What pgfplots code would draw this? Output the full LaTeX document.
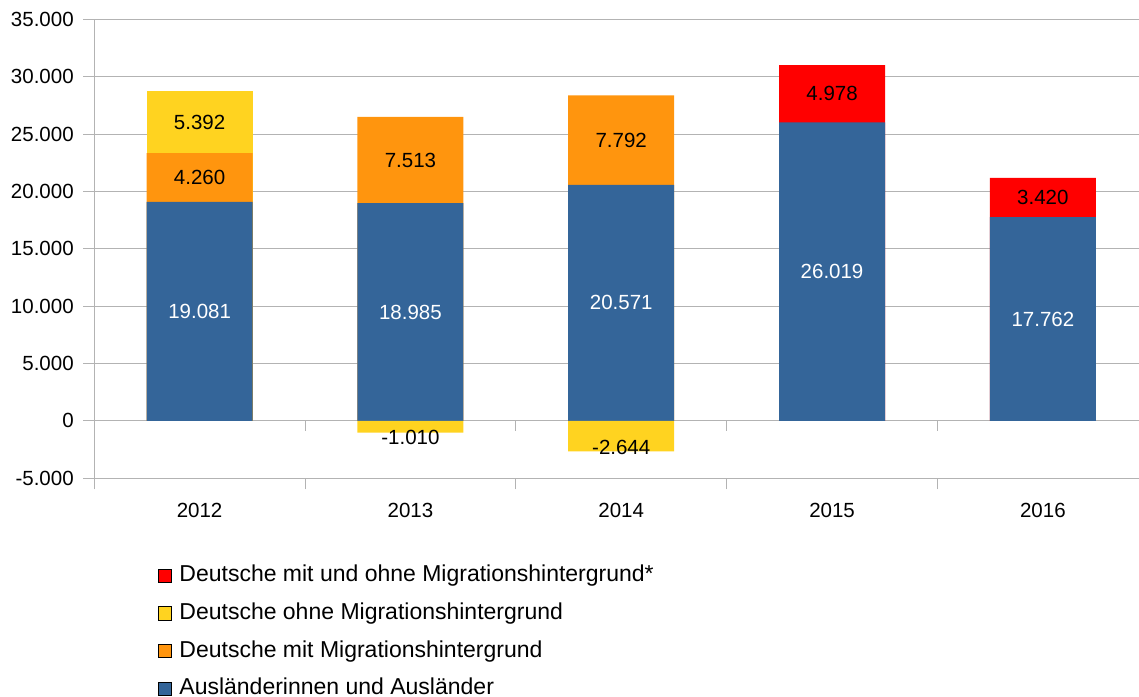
\documentclass[border=0pt]{standalone}
\usepackage{pgfplots}
\pgfplotsset{compat=1.18}
\usepackage{pgfplotstable}
\usepackage{fontspec}
\setmainfont{Liberation Sans}
\definecolor{cblue}{RGB}{52,101,153}
\definecolor{corange}{RGB}{255,149,14}
\definecolor{cyellow}{RGB}{255,211,32}
\definecolor{cred}{RGB}{255,0,0}
\definecolor{cgrid}{RGB}{179,179,179}

\pgfplotstableread{
x blue
0 19081
1 18985
2 20571
3 26019
4 17762
}\bluet
\pgfplotstableread{
x blue orange
0 19081 4260
1 18985 7513
2 20571 7792
}\oranget
\pgfplotstableread{
x blue orange yellow
0 19081 4260 5392
}\yellowpost
\pgfplotstableread{
x yellow
1 -1010
2 -2644
}\yellownegt
\pgfplotstableread{
x blue red
3 26019 4978
4 17762 3420
}\redt

\newcommand{\chartfont}{\fontsize{20.5bp}{24bp}\selectfont}
\newcommand{\legfont}{\fontsize{23bp}{26bp}\selectfont}
\newcommand{\legtxt}[1]{\raisebox{3.5bp}{#1}}

\begin{document}
\begin{tikzpicture}
\begin{axis}[
  scale only axis, width=1044.8bp, height=459bp,
  xmin=-0.5, xmax=4.456, ymin=-5000, ymax=35000,
  axis x line*=bottom, axis y line*=left,
  axis line style={cgrid, line width=1bp},
  ytick distance=5000,
  ymajorgrids, grid style={cgrid, line width=1bp},
  xtick={0,1,2,3,4}, xticklabels={2012,2013,2014,2015,2016},
  minor xtick={-0.5,0.5,1.5,2.5,3.5},
  major x tick style={draw=none},
  tick align=outside,
  major tick length=11bp, minor tick length=11bp,
  tick style={cgrid, line width=1bp},
  tick label style={font=\chartfont, black},
  yticklabel style={xshift=-6bp},
  xticklabel style={yshift=-10bp},
  /pgf/number format/.cd, 1000 sep={.}, assume math mode=true, /pgfplots/.cd,
  scaled y ticks=false,
  mybar/.style={ybar, bar width=106bp, bar shift=0pt, draw=none},
  lbl/.style={draw=none, mark=none, point meta=explicit, nodes near coords={\pgfmathprintnumber[fixed,precision=0,1000 sep={.}]{\pgfplotspointmeta}}, every node near coord/.append style={anchor=center, font=\chartfont, inner sep=0pt}},
  legend image code/.code={\fill[#1] (0bp,-2.5bp) rectangle (12.5bp,10.8bp);},
  legend style={at={(0.0613,-0.1972)}, anchor=north west, draw=none, fill=none,
    inner sep=0pt, outer sep=0pt, row sep=17.1bp, column sep=8.3bp,
    font=\legfont, cells={anchor=base west},
    nodes={inner sep=0pt, text height=15bp, text depth=4bp}},
  legend cell align=left,
]
\addplot[mybar, fill=cyellow, forget plot] table[x=x, y expr=\thisrow{blue}+\thisrow{orange}+\thisrow{yellow}] {\yellowpost};
\addplot[mybar, fill=cred, forget plot] table[x=x, y expr=\thisrow{blue}+\thisrow{red}] {\redt};
\addplot[mybar, fill=corange, forget plot] table[x=x, y expr=\thisrow{blue}+\thisrow{orange}] {\oranget};
\addplot[mybar, fill=cblue, forget plot] table[x=x, y=blue] {\bluet};
\addplot[mybar, fill=cyellow, forget plot] table[x=x, y=yellow] {\yellownegt};

\addplot[lbl, forget plot, every node near coord/.append style={white}] table[x=x, y expr=\thisrow{blue}/2, meta=blue] {\bluet};
\addplot[lbl, forget plot, every node near coord/.append style={black}] table[x=x, y expr=\thisrow{blue}+\thisrow{orange}/2, meta=orange] {\oranget};
\addplot[lbl, forget plot, every node near coord/.append style={black}] table[x=x, y expr=\thisrow{blue}+\thisrow{orange}+\thisrow{yellow}/2, meta=yellow] {\yellowpost};
\addplot[lbl, forget plot, every node near coord/.append style={black}] table[x=x, y expr=\thisrow{blue}+\thisrow{red}/2, meta=red] {\redt};
\addplot[lbl, forget plot, every node near coord/.append style={black, yshift=-11bp}] table[x=x, y expr=\thisrow{yellow}/2, meta=yellow] {\yellownegt};

\pgfplotsinvokeforeach{0.5,1.5,2.5,3.5}{
  \draw[cgrid, line width=1bp] (axis cs:#1,0) -- ++(0bp,-10.5bp);
}

\addlegendimage{fill=cred}
\addlegendentry{\legtxt{Deutsche mit und ohne Migrationshintergrund*}}
\addlegendimage{fill=cyellow}
\addlegendentry{\legtxt{Deutsche ohne Migrationshintergrund}}
\addlegendimage{fill=corange}
\addlegendentry{\legtxt{Deutsche mit Migrationshintergrund}}
\addlegendimage{fill=cblue}
\addlegendentry{\legtxt{Ausländerinnen und Ausländer}}
\end{axis}
\pgfresetboundingbox
\path ([shift={(-94.2bp,-218.7bp)}]current axis.south west) rectangle ([shift={(0bp,19.3bp)}]current axis.north east);
\end{tikzpicture}
\end{document}
